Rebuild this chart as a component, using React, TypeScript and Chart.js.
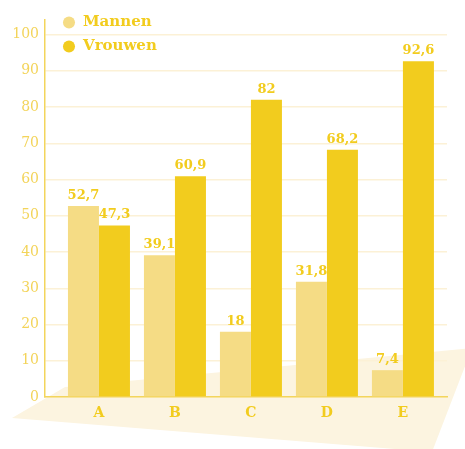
import React, { useEffect, useRef } from "react";
import { Chart, registerables } from "chart.js";

Chart.register(...registerables);

const categories = ["A", "B", "C", "D", "E"];
const seriesNames = ["Mannen", "Vrouwen"];
const mannen = [52.7, 39.1, 18, 31.8, 7.4];
const vrouwen = [47.3, 60.9, 82, 68.2, 92.6];
const yTicks = [0, 10, 20, 30, 40, 50, 60, 70, 80, 90, 100];

const C_MANNEN = "#f5dc85";
const C_VROUWEN = "#f2cc1e";
const C_TEXT = "#f2cc1e";
const C_TICK = "#f3d45a";
const C_GRID = "#fcf1d6";
const C_AXIS = "#f3d55c";
const C_BG = "#fcf4e0";

const fmt = (v: number) => String(v).replace(".", ",");

const bgPlugin = {
  id: "bgShape",
  beforeDraw(chart: any) {
    const ctx = chart.ctx;
    ctx.save();
    ctx.fillStyle = C_BG;
    ctx.beginPath();
    ctx.moveTo(12, 418);
    ctx.lineTo(65, 387);
    ctx.lineTo(472, 348);
    ctx.lineTo(432, 452);
    ctx.closePath();
    ctx.fill();
    ctx.restore();
  },
};

const legendShift = {
  id: "legendShift",
  afterLayout(chart: any) {
    if (chart.legend) {
      chart.legend.left += 8.5;
      chart.legend.top += 6;
    }
  },
};

const labelPlugin = {
  id: "valueLabels",
  afterDatasetsDraw(chart: any) {
    const ctx = chart.ctx;
    ctx.save();
    ctx.font = "bold 13px 'DejaVu Serif', serif";
    ctx.fillStyle = C_TEXT;
    ctx.textAlign = "center";
    ctx.textBaseline = "bottom";
    chart.data.datasets.forEach((ds: any, di: number) => {
      const meta = chart.getDatasetMeta(di);
      meta.data.forEach((bar: any, i: number) => {
        const v = ds.data[i].y;
        ctx.fillText(fmt(v), bar.x, bar.y - 4);
      });
    });
    ctx.restore();
  },
};

export default function App() {
  const ref = useRef<HTMLCanvasElement | null>(null);
  useEffect(() => {
    if (!ref.current) return;
    Chart.defaults.font.family = "'DejaVu Serif', serif";
    const chart = new Chart(ref.current, {
      type: "bar",
      data: {
        datasets: [
          {
            label: seriesNames[0],
            data: mannen.map((v, i) => ({ x: i, y: v })),
            backgroundColor: C_MANNEN,
            categoryPercentage: 0.816,
            barPercentage: 1,
          },
          {
            label: seriesNames[1],
            data: vrouwen.map((v, i) => ({ x: i, y: v })),
            backgroundColor: C_VROUWEN,
            categoryPercentage: 0.816,
            barPercentage: 1,
          },
        ],
      },
      options: {
        animation: false,
        responsive: true,
        maintainAspectRatio: false,
        layout: { padding: { top: 20, right: 18, left: 0, bottom: 0 } },
        plugins: {
          tooltip: { enabled: false },
          legend: {
            position: "chartArea",
            align: "start",
            labels: {
              usePointStyle: true,
              pointStyle: "circle",
              boxWidth: 13,
              boxHeight: 8.5,
              padding: 9,
              color: C_TEXT,
              font: { size: 15, weight: "bold" },
            },
          },
        },
        scales: {
          x: {
            type: "linear",
            min: -0.71,
            max: 4.58,
            offset: false,
            afterBuildTicks: (s: any) => {
              s.ticks = categories.map((_, i) => ({ value: i }));
            },
            afterFit: (s: any) => {
              s.height = 52;
            },
            ticks: {
              autoSkip: false,
              maxRotation: 0,
              padding: 8,
              color: C_TEXT,
              font: { size: 14, weight: "bold" },
              callback: (v: any) => categories[v as number] ?? "",
            },
            grid: { display: false, drawTicks: false },
            border: { display: true, color: C_AXIS, width: 1.5 },
          },
          y: {
            min: 0,
            max: 104,
            afterBuildTicks: (s: any) => {
              s.ticks = yTicks.map((v) => ({ value: v }));
            },
            afterFit: (s: any) => {
              s.width = 45;
            },
            ticks: {
              padding: 6,
              color: C_TICK,
              font: { size: 14 },
            },
            grid: {
              color: C_GRID,
              lineWidth: 1.5,
              drawTicks: false,
            },
            border: { display: true, color: C_AXIS, width: 1.5 },
          },
        },
      },
      plugins: [bgPlugin, legendShift, labelPlugin],
    } as any);
    return () => chart.destroy();
  }, []);
  return (
    <div style={{ position: "fixed", left: 0, top: 0, width: 465, height: 449 }}>
      <canvas ref={ref} />
    </div>
  );
}
